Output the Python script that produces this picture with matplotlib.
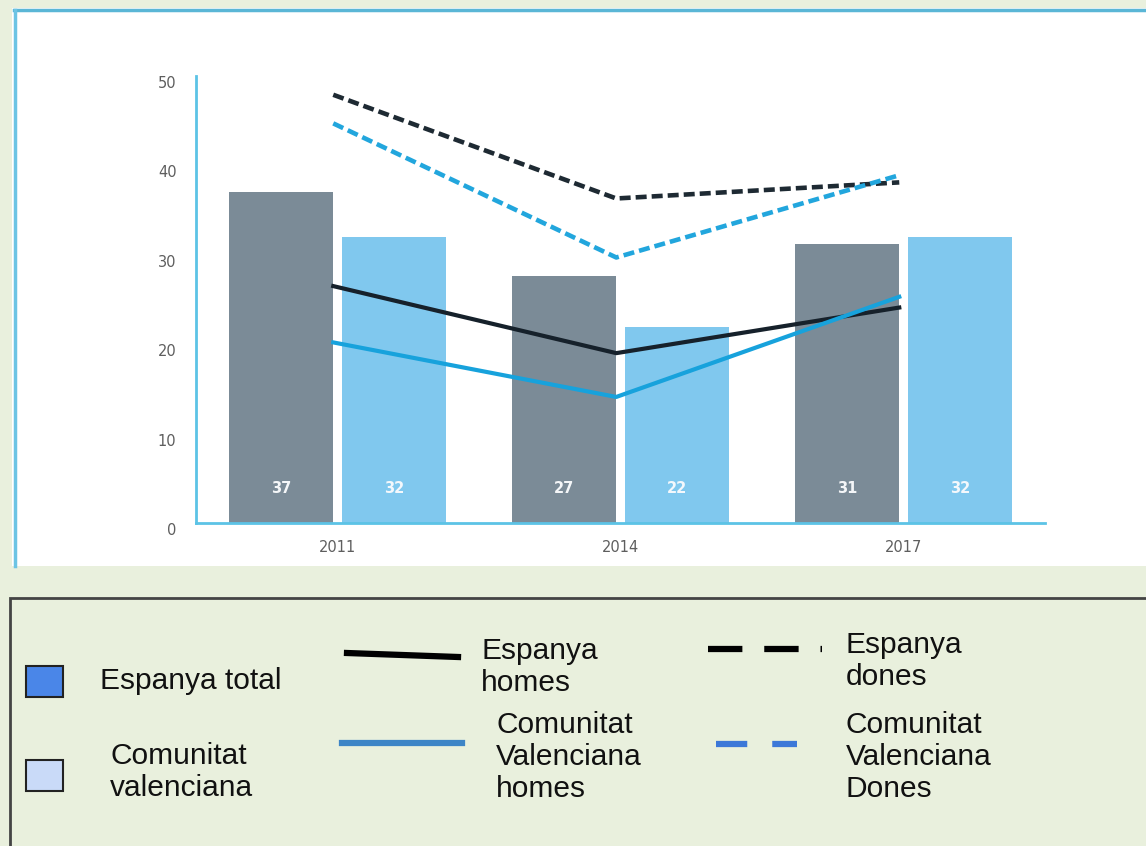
import matplotlib
matplotlib.use("Agg")
import matplotlib.pyplot as plt
from matplotlib.patches import Rectangle
from matplotlib.lines import Line2D
from matplotlib.transforms import ScaledTranslation
import numpy as np

# dades
years = ["2011", "2014", "2017"]
espanya_total = [37, 27.6, 31.2]
cv_total = [32, 21.9, 32]
espanya_total_labels = ["37", "27", "31"]
cv_total_labels = ["32", "22", "32"]
espanya_homes = [26.5, 19.0, 24.1]
cv_homes = [20.2, 14.1, 25.3]
espanya_dones = [47.9, 36.3, 38.1]
cv_dones = [44.7, 29.7, 38.9]

W, H = 1146, 846
BG = "#e9f0dd"
GREY_BAR = "#7b8b97"
BLUE_BAR = "#80c8ee"
DARK_LINE = "#16212b"
BLUE_LINE = "#17a2dc"
AXIS = "#5cc3e6"

fig = plt.figure(figsize=(W / 100, H / 100), dpi=100)
fig.patch.set_facecolor(BG)
plt.rcParams["font.family"] = ["Liberation Sans", "DejaVu Sans"]


def fx(px):
    return px / W


def fy(py):
    return 1 - py / H


# panell blanc del grafic
fig.add_artist(Rectangle((fx(12), fy(566)), fx(1160 - 12), (566 - 8) / H,
                         facecolor="white", edgecolor="none", zorder=0))
fig.add_artist(Line2D([fx(14), fx(1146)], [fy(10), fy(10)], color="#5ab6d6", lw=2.5))
fig.add_artist(Line2D([fx(15), fx(15)], [fy(10), fy(566)], color="#6cc4e4", lw=2.5))

ax = fig.add_axes([fx(196), fy(523), fx(1045 - 196), (523 - 76) / H])
ax.set_facecolor("none")

x = np.arange(len(years))
off = 0.2
width = 0.367
ax.bar(x - off, espanya_total, width, color=GREY_BAR, zorder=1)
ax.bar(x + off, cv_total, width, color=BLUE_BAR, zorder=1)
for i in range(len(years)):
    ax.text(x[i] - off, 3.9, espanya_total_labels[i], color="#f4f6f8", ha="center",
            va="center", fontsize=10.5, fontweight="semibold", family="DejaVu Sans")
    ax.text(x[i] + off, 3.9, cv_total_labels[i], color="#f4f8fc", ha="center",
            va="center", fontsize=10.5, fontweight="semibold", family="DejaVu Sans")

xl = x - 0.015
ax.plot(xl, espanya_homes, color=DARK_LINE, lw=3, zorder=3)
ax.plot(xl, cv_homes, color=BLUE_LINE, lw=3, zorder=3)
ax.plot(xl, espanya_dones, color="#1e2a33", lw=3.3, dashes=(2.4, 1.1), zorder=3)
ax.plot(xl, cv_dones, color="#22a6dd", lw=3.3, dashes=(2.4, 1.1), zorder=3)

ax.set_xlim(-0.5, 2.5)
ax.set_ylim(0, 50)
ax.set_yticks([0, 10, 20, 30, 40, 50])
ax.set_xticks(x)
ax.set_xticklabels(years)
for s in ["top", "right"]:
    ax.spines[s].set_visible(False)
for s in ["left", "bottom"]:
    ax.spines[s].set_color(AXIS)
    ax.spines[s].set_linewidth(2)
ax.tick_params(axis="both", length=0, labelcolor="#5e5e5e", labelsize=10.5)
ax.tick_params(axis="y", pad=14)
ax.tick_params(axis="x", pad=12)
shift = ScaledTranslation(0, -6 / 100, fig.dpi_scale_trans)
for lab in ax.get_xticklabels() + ax.get_yticklabels():
    lab.set_family("DejaVu Sans")
for lab in ax.get_yticklabels():
    lab.set_transform(lab.get_transform() + shift)

# llegenda
fig.add_artist(Rectangle((fx(10), fy(900)), fx(1200), (900 - 598) / H,
                         facecolor=BG, edgecolor="#444444", lw=2, zorder=0))

fig.add_artist(Rectangle((fx(26), fy(697)), fx(37), 31 / H, facecolor="#4a86e8",
                         edgecolor="#222222", lw=1.5))
fig.add_artist(Rectangle((fx(26), fy(791)), fx(37), 31 / H, facecolor="#c9daf8",
                         edgecolor="#222222", lw=1.5))
fig.add_artist(Line2D([fx(347), fx(458)], [fy(653), fy(657)], color="black", lw=4.5))
fig.add_artist(Line2D([fx(342), fx(462)], [fy(743), fy(743)], color="#3d85c6", lw=4.5))
fig.add_artist(Line2D([fx(708), fx(822)], [fy(649), fy(649)], color="black", lw=4.5,
                      dashes=(5.5, 3.5, 5.5, 3.5, 1, 3)))
fig.add_artist(Line2D([fx(716), fx(797)], [fy(744), fy(744)], color="#3c78d8", lw=4.5,
                      dashes=(5, 4)))

tkw = dict(fontsize=21.5, color="#111111", va="center", ha="left", linespacing=1.19)
fig.text(fx(100), fy(681), "Espanya total", **tkw)
fig.text(fx(110), fy(772), "Comunitat\nvalenciana", **tkw)
fig.text(fx(481), fy(667), "Espanya\nhomes", **tkw)
fig.text(fx(496), fy(757), "Comunitat\nValenciana\nhomes", **tkw)
fig.text(fx(846), fy(661), "Espanya\ndones", **tkw)
fig.text(fx(846), fy(757), "Comunitat\nValenciana\nDones", **tkw)

fig.savefig("out.png", dpi=100, facecolor=BG)
